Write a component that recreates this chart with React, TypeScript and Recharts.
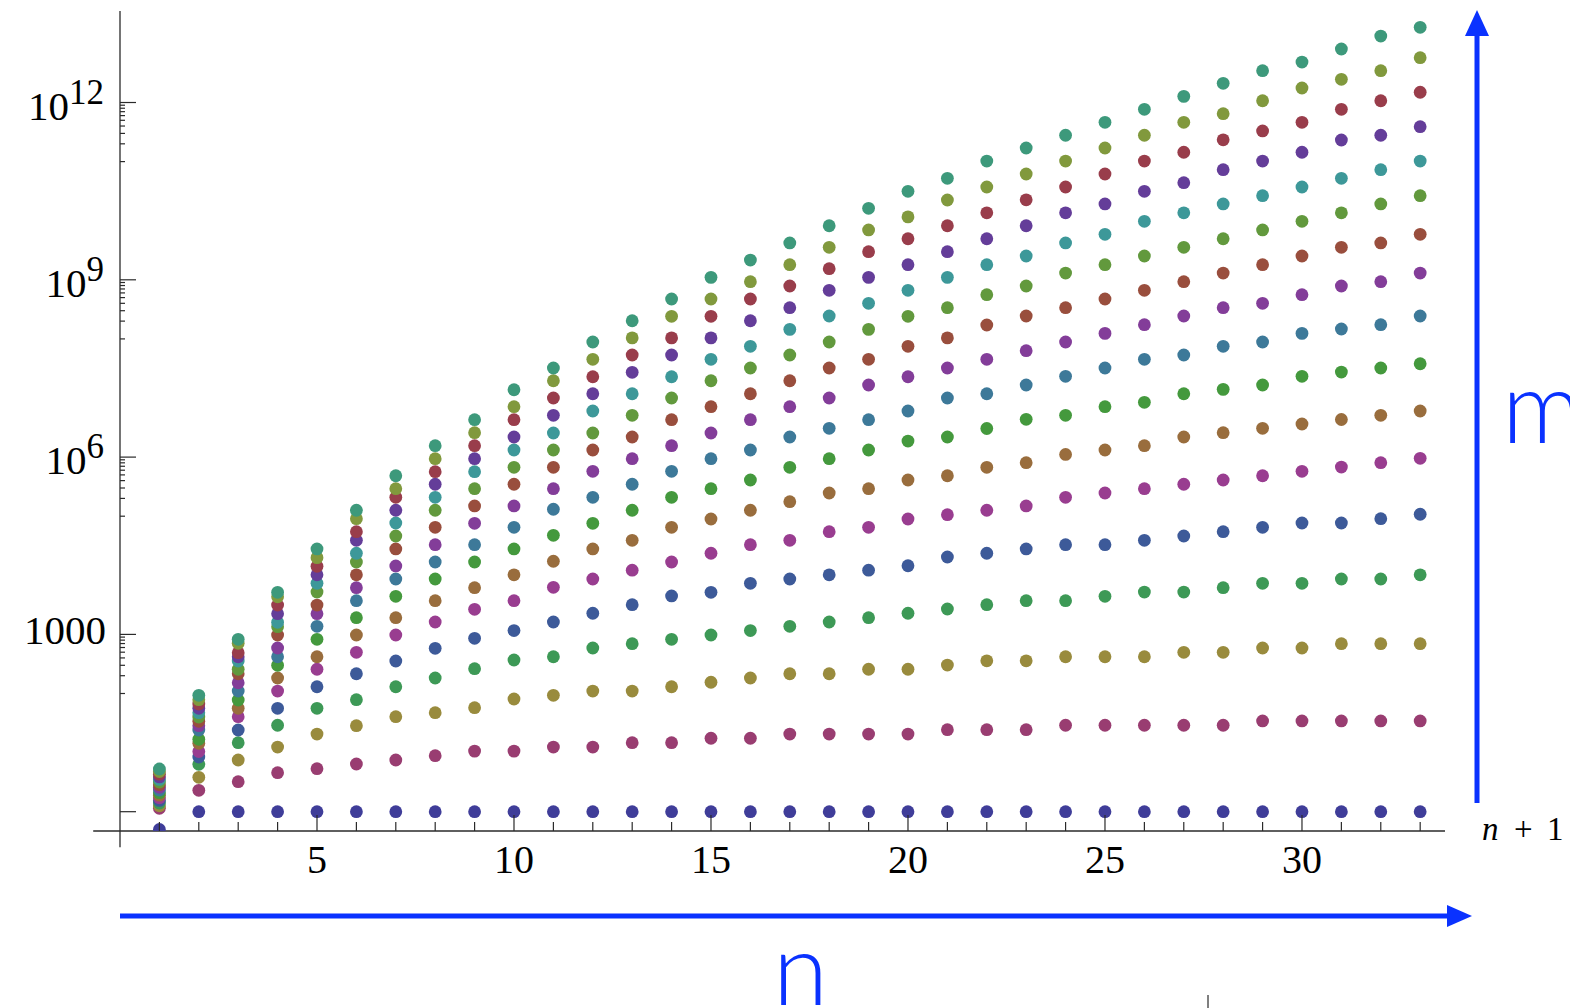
import React from 'react';
import { ScatterChart, Scatter, XAxis, YAxis, ReferenceLine } from 'recharts';

// ---------- data ----------
const nValues = [1, 2, 3, 4, 5, 6, 7, 8, 9, 10, 11, 12, 13, 14, 15, 16, 17, 18, 19, 20, 21, 22, 23, 24, 25, 26, 27, 28, 29, 30, 31, 32, 33];

const m0 = [0.5, 1, 1, 1, 1, 1, 1, 1, 1, 1, 1, 1, 1, 1, 1, 1, 1, 1, 1, 1, 1, 1, 1, 1, 1, 1, 1, 1, 1, 1, 1, 1, 1];
const m1 = [1.14, 2.3, 3.22, 4.57, 5.34, 6.41, 7.5, 8.87, 10.6, 10.6, 12.4, 12.4, 14.7, 14.7, 17.5, 17.5, 20.6, 20.6, 20.6, 20.6, 24.4, 24.4, 24.4, 29, 29, 29, 29, 29, 34.3, 34.3, 34.3, 34.3, 34.3];
const m2 = [1.26, 3.82, 7.5, 12.4, 20.6, 28.5, 40.5, 47.3, 57.5, 80.7, 93.3, 110, 110, 130, 155, 183, 216, 216, 257, 257, 303, 357, 357, 419, 419, 419, 498, 498, 589, 589, 697, 697, 697];
const m3 = [1.4, 6.34, 14.7, 29, 56.2, 78.5, 130, 183, 263, 369, 419, 589, 697, 826, 977, 1160, 1370, 1620, 1920, 2280, 2690, 3180, 3720, 3720, 4410, 5210, 5210, 6170, 7320, 7320, 8650, 8650, 10200];
const m4 = [1.55, 8.43, 24.1, 56.2, 130, 216, 355, 582, 859, 1160, 1620, 2280, 3180, 4470, 5150, 7320, 8650, 10200, 12200, 14500, 20400, 23600, 27900, 33000, 33000, 39100, 46200, 54700, 64900, 76700, 76700, 90800, 108000];
const m5 = [1.72, 10.4, 40.5, 110, 257, 498, 977, 1620, 2660, 3720, 6270, 8650, 12200, 16800, 23600, 33000, 39100, 54700, 64900, 89700, 106000, 126000, 149000, 209000, 247000, 292000, 347000, 410000, 484000, 575000, 679000, 804000, 955000];
const m6 = [1.9, 14.4, 56.2, 183, 419, 977, 1920, 3720, 6170, 10200, 17300, 27900, 39100, 64900, 89700, 126000, 176000, 247000, 292000, 410000, 484000, 672000, 804000, 1.11e6, 1.32e6, 1.56e6, 2.19e6, 2.59e6, 3.07e6, 3.63e6, 4.33e6, 5.09e6, 6.03e6];
const m7 = [2.1, 16.8, 77.6, 300, 826, 1920, 4410, 8650, 16800, 27900, 47500, 75900, 126000, 209000, 292000, 410000, 672000, 940000, 1.32e6, 1.87e6, 2.19e6, 3.05e6, 4.36e6, 5.09e6, 7.13e6, 8.45e6, 1.18e7, 1.4e7, 1.66e7, 2.33e7, 2.75e7, 3.22e7, 3.8e7];
const m8 = [2.33, 24.1, 110, 419, 1370, 3720, 8650, 16800, 33000, 64900, 131000, 209000, 347000, 575000, 940000, 1.32e6, 2.19e6, 3.07e6, 4.3e6, 6.03e6, 1e7, 1.18e7, 1.66e7, 2.33e7, 3.22e7, 4.52e7, 5.34e7, 7.5e7, 8.87e7, 1.24e8, 1.47e8, 1.74e8, 2.44e8];
const m9 = [2.59, 28.5, 152, 589, 2240, 6170, 14400, 33000, 75900, 149000, 292000, 575000, 940000, 1.56e6, 2.56e6, 4.3e6, 7.13e6, 1e7, 1.66e7, 2.29e7, 3.22e7, 4.52e7, 6.31e7, 8.87e7, 1.24e8, 1.74e8, 2.44e8, 3.37e8, 4e8, 5.6e8, 7.85e8, 9.29e8, 1.3e9];
const m10 = [2.86, 33.9, 216, 977, 3140, 10200, 27900, 64900, 149000, 347000, 672000, 1.32e6, 2.19e6, 4.3e6, 7.13e6, 1.18e7, 1.96e7, 3.22e7, 4.52e7, 7.5e7, 1.04e8, 1.72e8, 2.44e8, 3.37e8, 4.73e8, 6.64e8, 9.29e8, 1.3e9, 1.8e9, 2.53e9, 3.55e9, 4.2e9, 5.89e9];
const m11 = [3.17, 40, 257, 1350, 5210, 16800, 46200, 126000, 292000, 672000, 1.32e6, 2.56e6, 5.09e6, 1e7, 1.96e7, 3.22e7, 5.34e7, 8.87e7, 1.45e8, 2.41e8, 3.37e8, 5.6e8, 7.85e8, 1.3e9, 1.8e9, 2.53e9, 3.55e9, 4.95e9, 6.97e9, 9.77e9, 1.36e10, 1.92e10, 2.65e10];
const m12 = [3.51, 47.3, 355, 1600, 7320, 23600, 76700, 209000, 566000, 1.32e6, 2.56e6, 6.03e6, 1.18e7, 2.29e7, 4.52e7, 7.5e7, 1.45e8, 2.44e8, 4e8, 6.64e8, 1.1e9, 1.8e9, 2.53e9, 4.2e9, 5.89e9, 9.77e9, 1.36e10, 1.92e10, 2.65e10, 3.72e10, 5.21e10, 7.3e10, 1.02e11];
const m13 = [3.88, 56.2, 419, 2240, 10200, 39100, 126000, 347000, 940000, 2.19e6, 5.09e6, 1.18e7, 2.72e7, 5.34e7, 1.04e8, 2.03e8, 3.37e8, 6.64e8, 1.1e9, 1.8e9, 2.99e9, 4.95e9, 8.22e9, 1.36e10, 1.92e10, 3.14e10, 4.4e10, 7.3e10, 1.02e11, 1.44e11, 2.32e11, 2.79e11, 3.9e11];
const m14 = [4.31, 66.4, 490, 3140, 14200, 54700, 209000, 566000, 1.56e6, 4.3e6, 1e7, 2.29e7, 5.34e7, 1.04e8, 2.41e8, 4.73e8, 7.85e8, 1.54e9, 2.99e9, 4.95e9, 8.22e9, 1.36e10, 2.26e10, 3.72e10, 6.17e10, 1.02e11, 1.44e11, 2.34e11, 3.3e11, 4.62e11, 7.67e11, 1.07e12, 1.49e12];
const m15 = [4.77, 78.5, 707, 4340, 19900, 90800, 292000, 940000, 2.59e6, 7.13e6, 1.96e7, 4.52e7, 1.04e8, 2.41e8, 4.73e8, 9.29e8, 1.8e9, 3.55e9, 6.97e9, 1.16e10, 2.24e10, 3.72e10, 6.17e10, 1.02e11, 1.7e11, 2.79e11, 4.62e11, 6.46e11, 1.07e12, 1.76e12, 2.47e12, 3.45e12, 5.73e12];
const m16 = [5.28, 93.3, 826, 5150, 27900, 126000, 484000, 1.56e6, 4.3e6, 1.38e7, 3.22e7, 8.87e7, 2.03e8, 4.73e8, 1.1e9, 2.16e9, 4.2e9, 8.22e9, 1.62e10, 3.14e10, 5.21e10, 1.02e11, 1.7e11, 2.79e11, 4.62e11, 7.67e11, 1.27e12, 2.11e12, 3.45e12, 4.84e12, 8.04e12, 1.33e13, 1.87e13];

const xTicks = [1, 2, 3, 4, 5, 6, 7, 8, 9, 10, 11, 12, 13, 14, 15, 16, 17, 18, 19, 20, 21, 22, 23, 24, 25, 26, 27, 28, 29, 30, 31, 32, 33];
const xLabelEvery = 5;
const yMajorTicks = [1, 1000, 1e6, 1e9, 1e12];
const yTickBase = ['', '1000', '10', '10', '10'];
const yTickExp = ['', '', '6', '9', '12'];
const yMinorTicks = [
  100, 200, 300, 400, 500, 600, 700, 800, 900,
  1e5, 2e5, 3e5, 4e5, 5e5, 6e5, 7e5, 8e5, 9e5,
  1e8, 2e8, 3e8, 4e8, 5e8, 6e8, 7e8, 8e8, 9e8,
  1e11, 2e11, 3e11, 4e11, 5e11, 6e11, 7e11, 8e11, 9e11,
];

// Mathematica-style default palette
const palette = [
  '#3f3d99', '#993d71', '#998b3d', '#3d9956', '#3d5a99', '#993d90', '#996d3d', '#44993d', '#3d7999',
  '#833d99', '#994e3d', '#62993d', '#3d9899', '#643d99', '#993d4b', '#81993d', '#3d997b',
];

const seriesValues = [m0, m1, m2, m3, m4, m5, m6, m7, m8, m9, m10, m11, m12, m13, m14, m15, m16];

// ---------- layout ----------
const W = 1570;
const H = 1008;
const X_DOMAIN: [number, number] = [0, 33.63];
const Y_DOMAIN: [number, number] = [0.4714, 3.535e13];
const BLUE = '#0a32ff';
const SERIF = '"Liberation Serif", "Times New Roman", serif';
const AXIS = '#2a2a2a';

const XTick = (props: any) => {
  const { x, y, payload } = props;
  const v = payload.value;
  const major = v % xLabelEvery === 0;
  return (
    <g>
      <line x1={x} x2={x} y1={y} y2={y - (major ? 16 : 9)} stroke={AXIS} strokeWidth={1.2} />
      {major && (
        <text x={x} y={y + 42} textAnchor="middle" fontFamily={SERIF} fontSize={40} fill="#000">
          {v}
        </text>
      )}
    </g>
  );
};

const YTick = (props: any) => {
  const { x, y, payload } = props;
  const v = payload.value;
  const idx = yMajorTicks.indexOf(v);
  const major = idx >= 0;
  const base = major ? yTickBase[idx] : '';
  const exp = major ? yTickExp[idx] : '';
  return (
    <g>
      <line x1={x} x2={x + (major ? 16 : 5)} y1={y} y2={y} stroke={AXIS} strokeWidth={1.2} />
      {base && !exp && (
        <text x={x - 14} y={y + 10} textAnchor="end" fontFamily={SERIF} fontSize={41} fill="#000">
          {base}
        </text>
      )}
      {base && exp && (
        <text x={x - 16} y={y + 17} textAnchor="end" fontFamily={SERIF} fontSize={41} fill="#000">
          <tspan>{base}</tspan>
          <tspan dy={-16} fontSize={35}>{exp}</tspan>
        </text>
      )}
    </g>
  );
};

const dotShape = (color: string) => (p: any) => (
  <circle cx={p.cx} cy={p.cy} r={6.4} fill={color} />
);

export default function App() {
  return (
    <div style={{ position: 'absolute', left: 0, top: 0, width: W, height: H, background: '#fff' }}>
      <ScatterChart width={W} height={H} margin={{ top: 11, right: 125, bottom: 0, left: 0 }}>
        <XAxis
          dataKey="n"
          type="number"
          domain={X_DOMAIN}
          allowDataOverflow
          ticks={xTicks}
          interval={0}
          tick={<XTick />}
          tickSize={0}
          tickMargin={0}
          tickLine={false}
          axisLine={false}
          height={177}
        />
        <YAxis
          dataKey="v"
          type="number"
          scale="log"
          domain={Y_DOMAIN}
          allowDataOverflow
          ticks={[...yMajorTicks, ...yMinorTicks]}
          interval={0}
          tick={<YTick />}
          tickSize={0}
          tickMargin={0}
          tickLine={false}
          axisLine={false}
          width={120}
        />
        <ReferenceLine
          segment={[{ x: -0.68, y: Y_DOMAIN[0] }, { x: X_DOMAIN[1], y: Y_DOMAIN[0] }]}
          stroke={AXIS}
          strokeWidth={1.3}
          ifOverflow="visible"
        />
        <ReferenceLine
          segment={[{ x: 0, y: 0.25 }, { x: 0, y: Y_DOMAIN[1] }]}
          stroke={AXIS}
          strokeWidth={1.3}
          ifOverflow="visible"
        />
        {seriesValues.map((vals, k) => (
          <Scatter
            key={k}
            data={nValues.map((n, i) => ({ n, v: vals[i] }))}
            fill={palette[k]}
            isAnimationActive={false}
            shape={dotShape(palette[k])}
          />
        ))}
      </ScatterChart>
      <svg
        width={W}
        height={H}
        style={{ position: 'absolute', left: 0, top: 0, pointerEvents: 'none', overflow: 'hidden' }}
      >
        {/* horizontal arrow */}
        <line x1={120} y1={916} x2={1452} y2={916} stroke={BLUE} strokeWidth={5} />
        <polygon points="1472,916 1447,905 1447,927" fill={BLUE} />
        {/* vertical arrow */}
        <line x1={1477} y1={803} x2={1477} y2={30} stroke={BLUE} strokeWidth={5} />
        <polygon points="1477,10 1465,36 1489,36" fill={BLUE} />
        <text x={1502} y={443} fontFamily="Lato, 'Open Sans', sans-serif" fontWeight={300} fontSize={100} fill={BLUE}>
          m
        </text>
        <text x={773} y={1005} fontFamily="Lato, 'Open Sans', sans-serif" fontWeight={300} fontSize={100} fill={BLUE}>
          n
        </text>
        <text x={728} y={-8} fontFamily="Lato, 'Open Sans', sans-serif" fontWeight={300} fontSize={58} fill={BLUE}>
          (n, m)
        </text>
        {/* x-axis label */}
        <text x={1482} y={840} fontFamily={SERIF} fontStyle="italic" fontSize={33} fill="#000">n</text>
        <text x={1514} y={840} fontFamily={SERIF} fontSize={33} fill="#000">+</text>
        <text x={1547} y={840} fontFamily={SERIF} fontSize={33} fill="#000">1</text>
        <line x1={1208} y1={995} x2={1208} y2={1008} stroke="#000" strokeWidth={1} />
      </svg>
    </div>
  );
}
